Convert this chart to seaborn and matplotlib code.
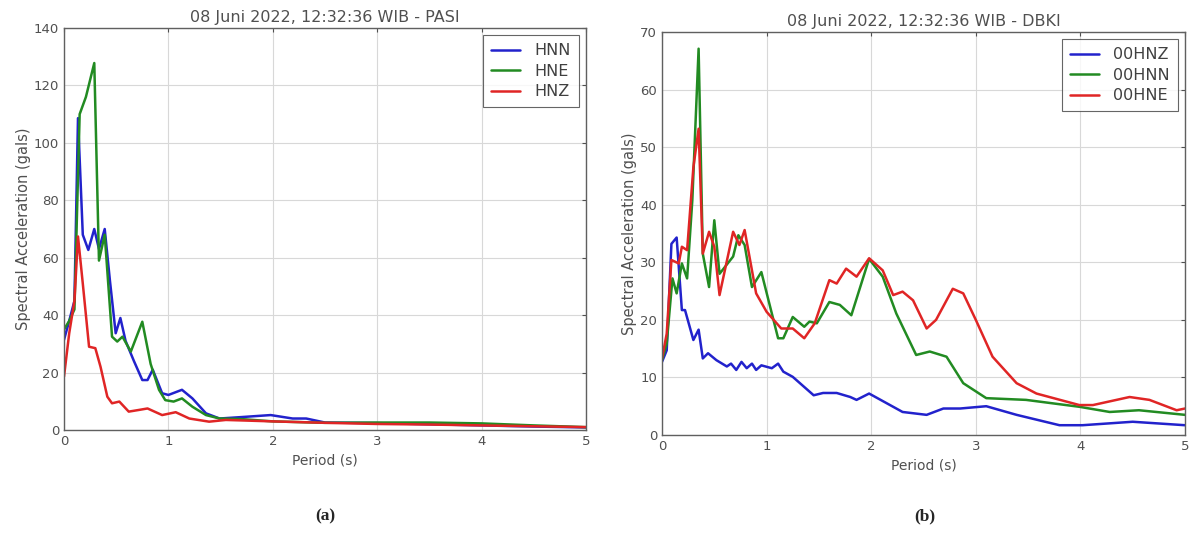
import pandas as pd
import matplotlib
matplotlib.use("Agg")
import matplotlib.pyplot as plt
import seaborn as sns

# ---------------- data: station PASI ----------------
pasi_hnn_t = [0.0, 0.05, 0.1, 0.134, 0.18, 0.233, 0.29, 0.335, 0.39, 0.44, 0.495, 0.54, 0.59, 0.67, 0.75, 0.8, 0.85,
              0.94, 1.0, 1.13, 1.23, 1.36, 1.49, 1.7, 1.98, 2.19, 2.32, 2.5, 3.0, 3.5, 4.0, 4.5, 5.0]
pasi_hnn_a = [31.4, 38, 45, 108.6, 68, 62.7, 70, 63, 70, 52, 33.7, 39, 31, 24, 17.4, 17.4, 21,
              12.8, 12.2, 14, 11, 5.8, 4.0, 4.5, 5.2, 4.0, 4.0, 2.6, 2.4, 2.0, 1.6, 1.2, 0.9]
pasi_hne_t = [0.0, 0.05, 0.1, 0.15, 0.21, 0.29, 0.335, 0.39, 0.46, 0.51, 0.56, 0.64, 0.75, 0.83, 0.91, 0.97,
              1.05, 1.13, 1.23, 1.36, 1.49, 1.7, 2.0, 2.5, 3.0, 3.5, 4.0, 4.5, 5.0]
pasi_hne_a = [35, 38, 42, 110, 116, 127.8, 59, 68, 32.5, 30.8, 32.5, 27.3, 37.7, 23, 14, 10.4,
              9.9, 11, 8.1, 5.2, 4.0, 3.8, 3.0, 2.5, 2.6, 2.6, 2.3, 1.6, 1.0]
pasi_hnz_t = [0.0, 0.05, 0.1, 0.134, 0.18, 0.24, 0.3, 0.35, 0.415, 0.46, 0.53, 0.62, 0.72, 0.8, 0.94, 1.07,
              1.2, 1.39, 1.55, 2.0, 2.5, 3.0, 3.5, 4.0, 4.5, 5.0]
pasi_hnz_a = [18.6, 33.7, 45, 67.4, 51, 29, 28.5, 22, 11.6, 9.3, 9.9, 6.4, 7.0, 7.5, 5.2, 6.2,
              4.0, 2.9, 3.5, 3.0, 2.5, 2.1, 1.9, 1.6, 1.3, 1.0]

# ---------------- data: station DBKI ----------------
dbki_hnz_t = [0.0, 0.045, 0.09, 0.14, 0.19, 0.22, 0.3, 0.35, 0.39, 0.44, 0.52, 0.62, 0.66, 0.71, 0.76, 0.81,
              0.86, 0.9, 0.95, 1.05, 1.11, 1.16, 1.25, 1.45, 1.54, 1.67, 1.8, 1.86, 1.98, 2.3, 2.53, 2.69,
              2.85, 3.1, 3.39, 3.8, 4.02, 4.5, 5.0]
dbki_hnz_a = [12.7, 14.7, 33.2, 34.3, 21.7, 21.7, 16.5, 18.3, 13.3, 14.2, 13, 11.9, 12.4, 11.3, 12.7, 11.6,
              12.4, 11.3, 12.1, 11.6, 12.4, 11, 10.1, 6.9, 7.3, 7.3, 6.6, 6.1, 7.2, 4.0, 3.5, 4.6,
              4.6, 5.0, 3.5, 1.7, 1.7, 2.3, 1.7]
dbki_hnn_t = [0.0, 0.045, 0.1, 0.14, 0.19, 0.24, 0.29, 0.35, 0.39, 0.45, 0.5, 0.55, 0.68, 0.73, 0.79, 0.86,
              0.95, 1.11, 1.16, 1.25, 1.36, 1.41, 1.48, 1.6, 1.7, 1.81, 1.98, 2.11, 2.24, 2.43, 2.56, 2.72,
              2.88, 3.1, 3.48, 3.99, 4.28, 4.56, 5.0]
dbki_hnn_a = [13, 15.9, 27.2, 24.6, 29.8, 27.2, 40.8, 67.1, 31.5, 25.7, 37.3, 28, 31, 34.7, 33, 25.7,
              28.3, 16.8, 16.8, 20.5, 18.8, 19.7, 19.4, 23.1, 22.6, 20.8, 30.6, 27.5, 21.1, 13.9, 14.5, 13.6,
              9.0, 6.4, 6.1, 4.9, 4.0, 4.3, 3.5]
dbki_hne_t = [0.0, 0.045, 0.09, 0.16, 0.19, 0.24, 0.3, 0.35, 0.39, 0.45, 0.5, 0.55, 0.68, 0.74, 0.79, 0.9,
              1.0, 1.14, 1.25, 1.36, 1.46, 1.6, 1.67, 1.76, 1.86, 1.98, 2.11, 2.21, 2.3, 2.4, 2.53, 2.62,
              2.78, 2.88, 3.0, 3.16, 3.39, 3.58, 3.99, 4.12, 4.47, 4.66, 4.92, 5.0]
dbki_hne_a = [13.3, 17.6, 30.4, 29.8, 32.7, 32.1, 46.5, 53.2, 31.5, 35.3, 32.7, 24.3, 35.3, 33, 35.6, 24.6,
              21.4, 18.5, 18.5, 16.8, 19.4, 26.9, 26.3, 28.9, 27.5, 30.7, 28.6, 24.3, 24.9, 23.4, 18.5, 20,
              25.4, 24.6, 20, 13.6, 9.0, 7.2, 5.2, 5.2, 6.6, 6.1, 4.3, 4.6]

pasi_title = "08 Juni 2022, 12:32:36 WIB - PASI"
dbki_title = "08 Juni 2022, 12:32:36 WIB - DBKI"


def long_df(series):
    frames = []
    for name, t, a in series:
        frames.append(pd.DataFrame({"period": t, "acc": a, "channel": name}))
    return pd.concat(frames, ignore_index=True)


pasi_df = long_df([("HNN", pasi_hnn_t, pasi_hnn_a),
                   ("HNE", pasi_hne_t, pasi_hne_a),
                   ("HNZ", pasi_hnz_t, pasi_hnz_a)])
dbki_df = long_df([("00HNZ", dbki_hnz_t, dbki_hnz_a),
                   ("00HNN", dbki_hnn_t, dbki_hnn_a),
                   ("00HNE", dbki_hne_t, dbki_hne_a)])

sns.set_style("white")
plt.rcParams["font.family"] = ["DejaVu Sans"]
txt = "#505050"

fig = plt.figure(figsize=(11.91, 5.46), dpi=100)
ax1 = fig.add_axes([64 / 1191, 1 - 430 / 546, 522 / 1191, 402 / 546])
ax2 = fig.add_axes([662 / 1191, 1 - 435 / 546, 523 / 1191, 403 / 546])

colors = ["#2222cc", "#228b22", "#e02525"]
panels = [
    (ax1, pasi_df, pasi_title, 140, 20),
    (ax2, dbki_df, dbki_title, 70, 10),
]

for ax, df, title, ymax, ystep in panels:
    sns.lineplot(data=df, x="period", y="acc", hue="channel", palette=colors,
                 sort=False, estimator=None, linewidth=1.8, ax=ax)
    ax.set_xlim(0, 5)
    ax.set_ylim(0, ymax)
    ax.set_yticks(range(0, ymax + 1, ystep))
    ax.set_xticks(range(0, 6))
    ax.grid(True, color="#d8d8d8", linewidth=0.8)
    ax.set_title(title, fontsize=11.5, color=txt, pad=4)
    ax.set_xlabel("Period (s)", fontsize=10, color=txt)
    ax.set_ylabel("Spectral Acceleration (gals)", fontsize=10.5, color=txt, labelpad=2)
    ax.tick_params(direction="in", length=3, labelsize=9.5, colors=txt, top=True, right=True)
    for s in ax.spines.values():
        s.set_color("#606060")
        s.set_linewidth(1.0)
    leg = ax.legend(loc="upper right", fontsize=11.5, frameon=True, fancybox=False,
                    handlelength=1.8, handletextpad=0.9, borderpad=0.5, labelspacing=0.35,
                    borderaxespad=0.45)
    leg.get_frame().set_edgecolor("#404040")
    leg.get_frame().set_linewidth(0.8)
    for t in leg.get_texts():
        t.set_color("#404040")

fig.text(325 / 1191, 1 - 516 / 546, "(a)", fontsize=12.5, fontweight="bold",
         family="Liberation Serif", ha="center", va="center")
fig.text(925 / 1191, 1 - 516 / 546, "(b)", fontsize=12.5, fontweight="bold",
         family="Liberation Serif", ha="center", va="center")

fig.savefig("out.png", dpi=100)
